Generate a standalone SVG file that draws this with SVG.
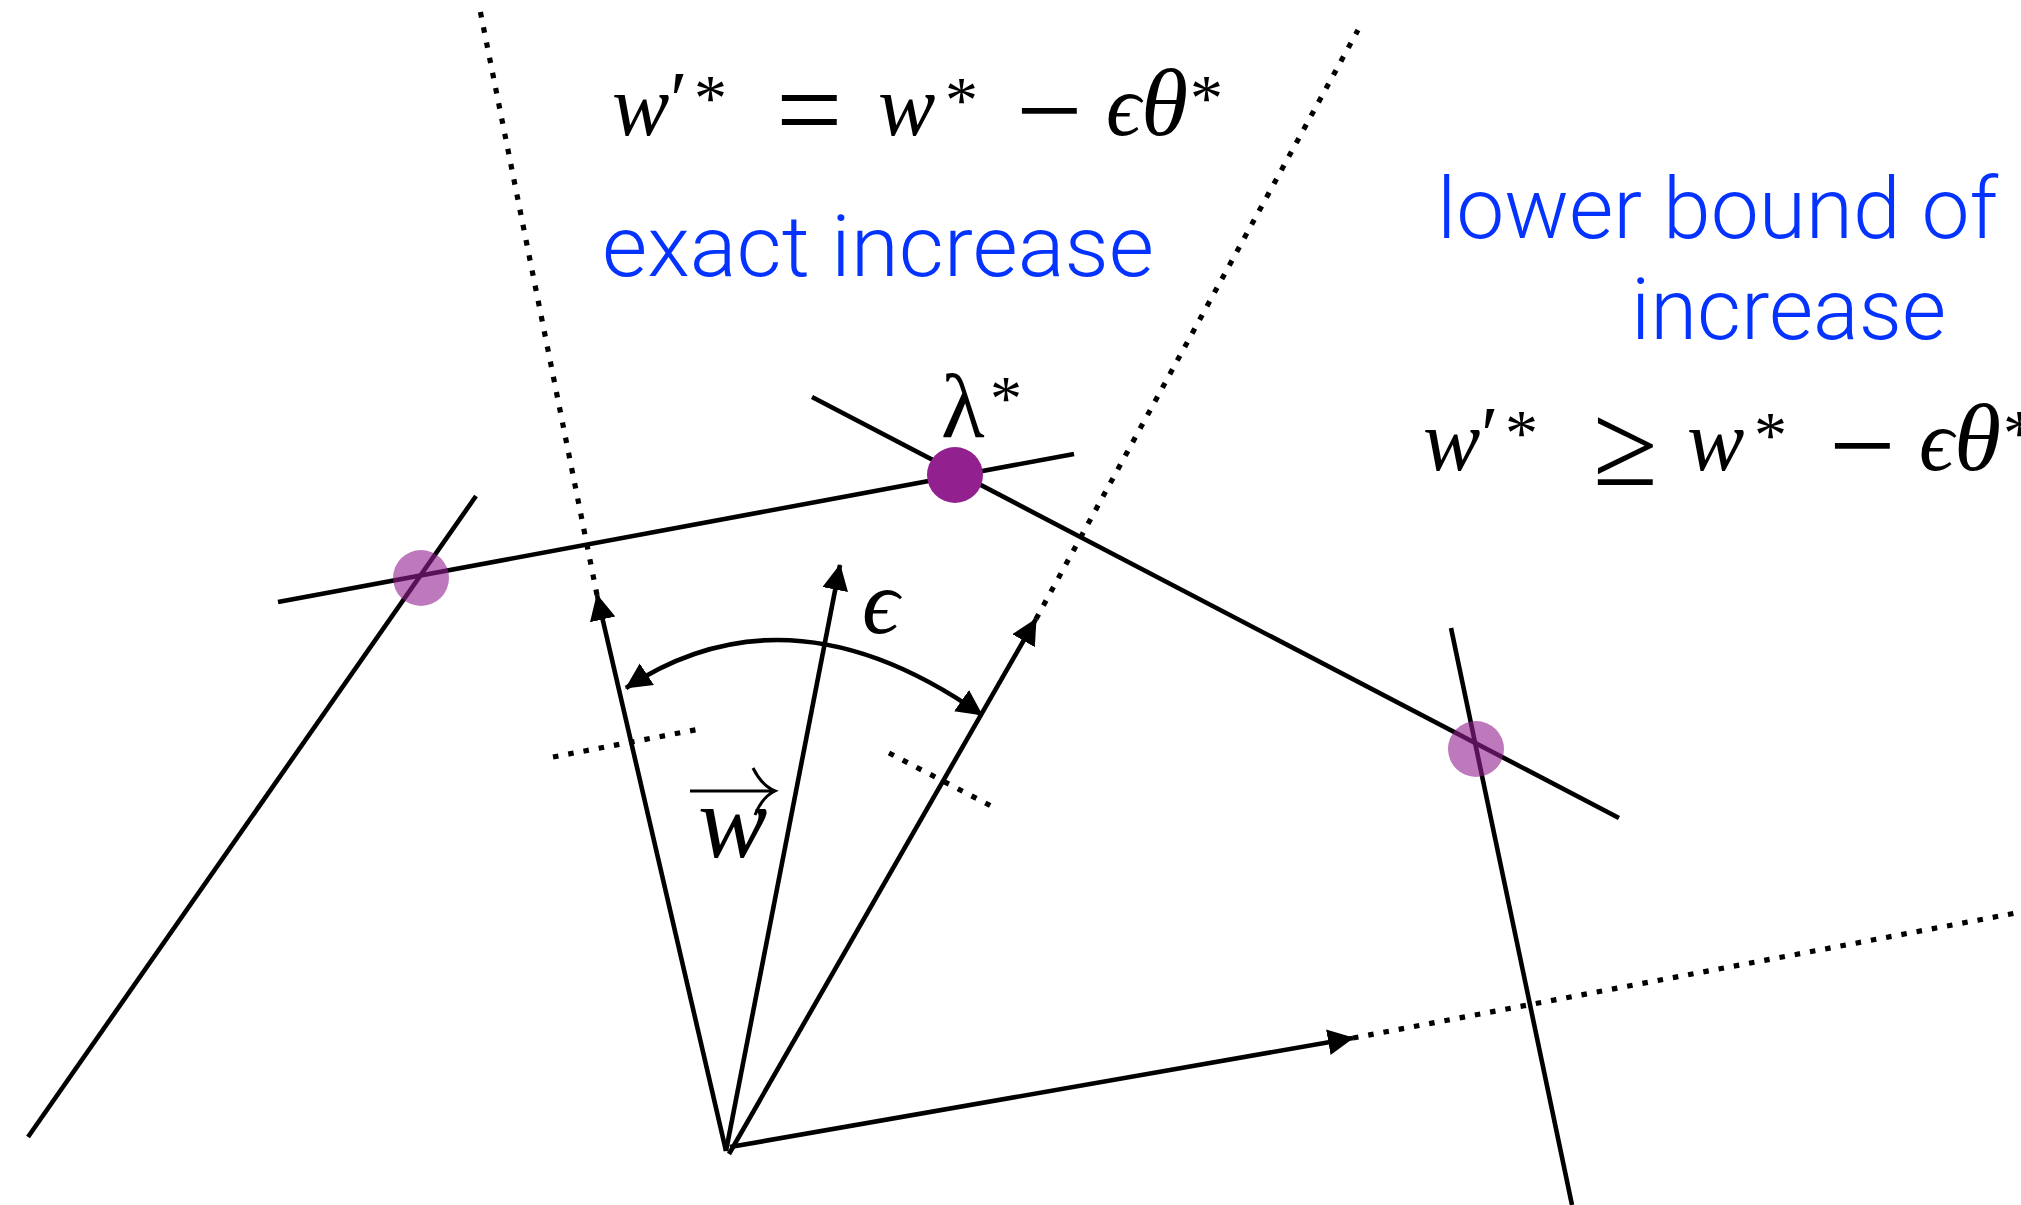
<svg xmlns="http://www.w3.org/2000/svg" width="2021" height="1205" viewBox="0 0 2021 1205">
<defs>
<style>
.ln{stroke:#000;stroke-width:4.6;fill:none;stroke-linecap:butt}
.dot{stroke:#000;stroke-width:5.2;fill:none;stroke-dasharray:5.5 10}
.vec{stroke:#000;stroke-width:4.6;fill:none;marker-end:url(#ah)}
.blue{font-family:Roboto,"Liberation Sans",sans-serif;font-weight:300;font-size:86px;fill:#0433ff}
.mi{font-family:"Liberation Serif","DejaVu Serif",serif;font-style:italic;fill:#000}
.mu{font-family:"Liberation Serif","DejaVu Serif",serif;fill:#000}
.pt{fill:#93208f}
.pt2{fill:#93208f;fill-opacity:0.6}
</style>
<marker id="ah" markerUnits="userSpaceOnUse" markerWidth="28" markerHeight="28" refX="25" refY="13" orient="auto-start-reverse" viewBox="0 0 28 28">
<path d="M0,0 L26,13 L0,26 z" fill="#000"/>
</marker>
</defs>
<rect width="2021" height="1205" fill="#fff"/>
<g id="connectors">
<line class="ln" x1="28" y1="1137" x2="476" y2="496"/>
<line class="ln" x1="278" y1="602" x2="1074" y2="454"/>
<line class="ln" x1="812" y1="397" x2="1619" y2="818"/>
<line class="ln" x1="1451" y1="628" x2="1572" y2="1205"/>
<line class="vec" x1="726" y1="1151" x2="597" y2="595"/>
<line class="vec" x1="726" y1="1151" x2="840" y2="565"/>
<line class="vec" x1="729" y1="1154" x2="1036" y2="619"/>
<line class="vec" x1="730" y1="1147" x2="1353" y2="1038"/>
<line class="dot" x1="597" y1="595" x2="480" y2="10"/>
<line class="dot" x1="1036" y1="619" x2="1358" y2="30"/>
<line class="dot" x1="1353" y1="1038" x2="2021" y2="912"/>
<line class="dot" x1="553" y1="757" x2="700" y2="729"/>
<line class="dot" x1="889" y1="753" x2="993" y2="807"/>
<path class="ln" d="M626,688 Q790,580 982,715" marker-start="url(#ah)" marker-end="url(#ah)"/>
</g>
<g id="node-lambda">
<circle class="pt" cx="955" cy="475" r="28"/>
<text class="mu" x="941" y="437" font-size="90">λ</text>
<text class="mu" x="990" y="420" font-size="64">*</text>
</g>
<g id="node-left">
<circle class="pt2" cx="421" cy="578" r="28"/>
</g>
<g id="node-right">
<circle class="pt2" cx="1476" cy="749" r="28"/>
</g>
<g id="label-eps">
<text class="mi" x="862" y="633" font-size="92">ϵ</text>
</g>
<g id="label-w">
<text class="mi" x="698" y="857" font-size="104">w</text>
<path d="M690,791 H773 M753,768 Q762,786 775,791 Q762,797 755,815" stroke="#000" stroke-width="3" fill="none"/>
</g>
<g id="eq-top">
<text class="mi" x="612" y="135" font-size="86">w</text>
<text class="mu" x="670" y="127" font-size="80">′</text>
<text class="mu" x="694" y="120" font-size="66">*</text>
<text class="mu" x="776" y="150" font-size="118">=</text>
<text class="mi" x="878" y="135" font-size="86">w</text>
<text class="mu" x="945" y="122" font-size="66">*</text>
<text class="mu" x="1016" y="150" font-size="118">−</text>
<text class="mi" x="1106" y="135" font-size="86">ϵ</text>
<text class="mi" x="1141" y="135" font-size="96">θ</text>
<text class="mu" x="1190" y="120" font-size="66">*</text>
</g>
<g id="label-exact">
<text class="blue" x="602" y="276" textLength="552" lengthAdjust="spacingAndGlyphs">exact increase</text>
</g>
<g id="label-lower">
<text class="blue" x="1437" y="238" textLength="561" lengthAdjust="spacingAndGlyphs">lower bound of</text>
<text class="blue" x="1631" y="339" textLength="315" lengthAdjust="spacingAndGlyphs">increase</text>
</g>
<g id="eq-right">
<text class="mi" x="1423" y="470" font-size="86">w</text>
<text class="mu" x="1481" y="462" font-size="80">′</text>
<text class="mu" x="1505" y="455" font-size="66">*</text>
<text class="mu" x="1593" y="485" font-size="118">≥</text>
<text class="mi" x="1687" y="470" font-size="86">w</text>
<text class="mu" x="1754" y="457" font-size="66">*</text>
<text class="mu" x="1829" y="485" font-size="118">−</text>
<text class="mi" x="1919" y="470" font-size="86">ϵ</text>
<text class="mi" x="1954" y="470" font-size="96">θ</text>
<text class="mu" x="2003" y="455" font-size="66">*</text>
</g>
</svg>
